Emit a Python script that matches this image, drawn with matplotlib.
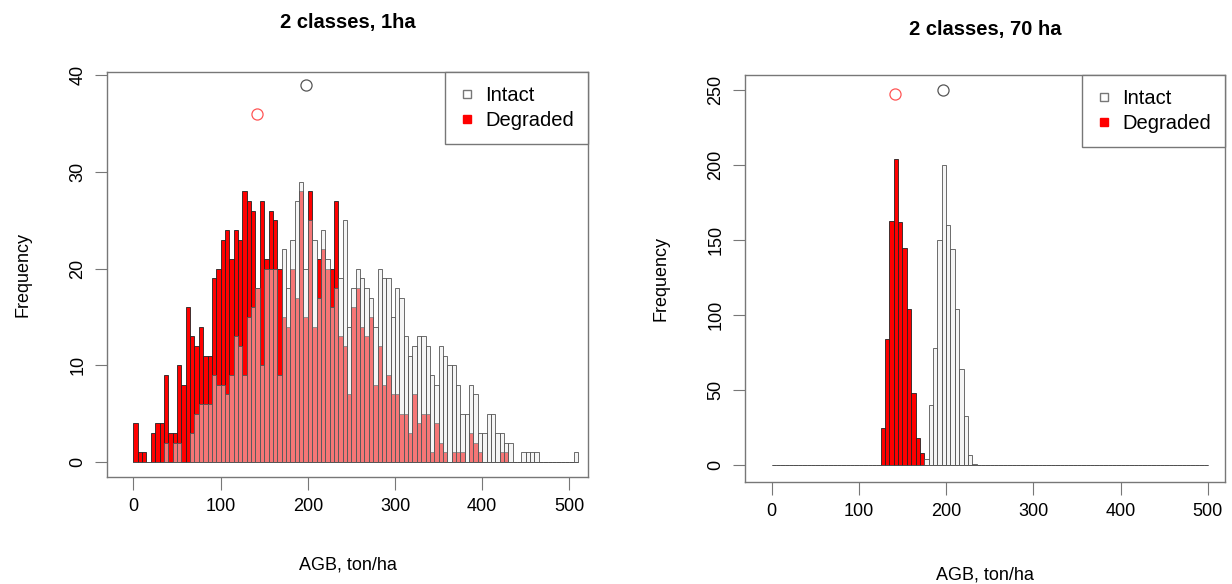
import numpy as np
import matplotlib
matplotlib.use("Agg")
import matplotlib.pyplot as plt
from matplotlib.lines import Line2D

plt.rcParams['font.family'] = ['Liberation Sans', 'DejaVu Sans']

# ---- data: 1 ha plots, counts per 5 ton/ha bin starting at 0 ----
bin_w = 5
deg_1ha = [4, 1, 1, 0, 3, 4, 4, 9, 3, 3, 10, 8, 16, 13, 12, 14, 11, 11, 19, 20,
           23, 24, 21, 24, 23, 28, 27, 26, 18, 27, 21, 26, 25, 20, 15, 14, 20, 17, 28, 15,
           28, 14, 21, 22, 20, 20, 27, 13, 12, 7, 16, 18, 14, 13, 15, 8, 12, 8, 9, 7,
           7, 5, 5, 3, 7, 4, 5, 5, 1, 4, 2, 1, 0, 1, 1, 1, 0, 3, 2, 1,
           0, 0, 0, 0, 1, 1, 0, 0, 0, 0, 0, 0, 0, 0, 0, 0, 0, 0, 0, 0,
           0, 0]
int_1ha = [0, 0, 0, 0, 0, 0, 0, 2, 0, 2, 2, 0, 0, 3, 5, 6, 6, 6, 9, 8,
           8, 7, 9, 13, 12, 9, 15, 16, 18, 10, 20, 20, 20, 9, 22, 18, 23, 27, 29, 20,
           25, 23, 17, 24, 21, 16, 18, 19, 25, 14, 18, 20, 19, 18, 17, 14, 20, 19, 19, 15,
           18, 17, 13, 11, 12, 13, 13, 12, 9, 8, 12, 11, 10, 10, 8, 5, 5, 8, 7, 3,
           3, 5, 5, 3, 3, 2, 2, 0, 0, 1, 1, 1, 1, 0, 0, 0, 0, 0, 0, 0,
           0, 1]
mean_deg_1ha = (141.5, 36)
mean_int_1ha = (197.7, 39)

# ---- data: 70 ha plots ----
n_bins_70 = 100
deg_70_start = 125
deg_70 = [25, 84, 163, 204, 162, 145, 104, 48, 18, 8]
int_70_start = 175
int_70 = [4, 40, 78, 150, 200, 160, 144, 104, 64, 33, 7, 1]
mean_deg_70 = (141, 247)
mean_int_70 = (196, 250)


def full_counts(start, vals, n):
    c = np.zeros(n)
    i0 = start // bin_w
    c[i0:i0 + len(vals)] = vals
    return c


RED = '#FF0000'
INT_FACE = (0.93, 0.93, 0.93, 0.5)
BOX = '#777777'

fig = plt.figure(figsize=(12.32, 5.84), dpi=100)
ax1 = fig.add_axes([0.0869, 0.1832, 0.3904, 0.6935])
ax2 = fig.add_axes([0.6047, 0.1752, 0.3896, 0.6964])


def draw(ax, deg, intc, mdeg, mint, title, tpad):
    edges = np.arange(len(deg)) * bin_w
    ax.bar(edges, deg, width=bin_w, align='edge', color=RED,
           edgecolor='#222222', linewidth=0.6, zorder=2)
    ax.bar(edges, intc, width=bin_w, align='edge', color=INT_FACE,
           edgecolor='#555555', linewidth=0.6, zorder=3)
    ax.plot([mdeg[0]], [mdeg[1]], 'o', mfc='none', mec='#FF5555', ms=8, mew=0.9)
    ax.plot([mint[0]], [mint[1]], 'o', mfc='none', mec='#555555', ms=8, mew=0.9)
    ax.set_title(title, fontsize=14.5, fontweight='bold', pad=tpad)
    ax.set_xticks([0, 100, 200, 300, 400, 500])
    for s in ax.spines.values():
        s.set_color(BOX)
        s.set_linewidth(1.0)
    ax.tick_params(direction='out', length=9, color=BOX, labelsize=13, pad=6)
    ax.tick_params(axis='y', labelrotation=90)
    for lab in ax.get_yticklabels():
        lab.set_va('center')
    handles = [Line2D([], [], ls='none', marker='s', ms=6, mfc='white', mec='#777777'),
               Line2D([], [], ls='none', marker='s', ms=6, mfc=RED, mec=RED)]
    leg = ax.legend(handles, ['Intact', 'Degraded'], loc='upper right',
                    borderaxespad=0, fontsize=14.5, fancybox=False, framealpha=1,
                    handlelength=0.8, handletextpad=0.5, borderpad=0.7,
                    labelspacing=0.3)
    leg.get_frame().set_edgecolor(BOX)
    leg.get_frame().set_linewidth(1.0)


draw(ax1, deg_1ha, int_1ha, mean_deg_1ha, mean_int_1ha, '2 classes, 1ha', 32)
ax1.set_xlim(-30.2, 521.4)
ax1.set_ylim(-1.55, 40.35)
ax1.set_yticks([0, 10, 20, 30, 40])
ax1.set_xlabel('AGB, ton/ha', fontsize=13, labelpad=30)
ax1.set_ylabel('Frequency', fontsize=13, labelpad=27)

d70 = full_counts(deg_70_start, deg_70, n_bins_70)
i70 = full_counts(int_70_start, int_70, n_bins_70)
draw(ax2, d70, i70, mean_deg_70, mean_int_70, '2 classes, 70 ha', 29)
ax2.set_xlim(-30.5, 519.6)
ax2.set_ylim(-11.1, 260)
ax2.set_yticks([0, 50, 100, 150, 200, 250])
ax2.set_xlabel('AGB, ton/ha', fontsize=13, labelpad=34)
ax2.set_ylabel('Frequency', fontsize=13, labelpad=27)

fig.savefig('out.png', dpi=100, facecolor='white')
